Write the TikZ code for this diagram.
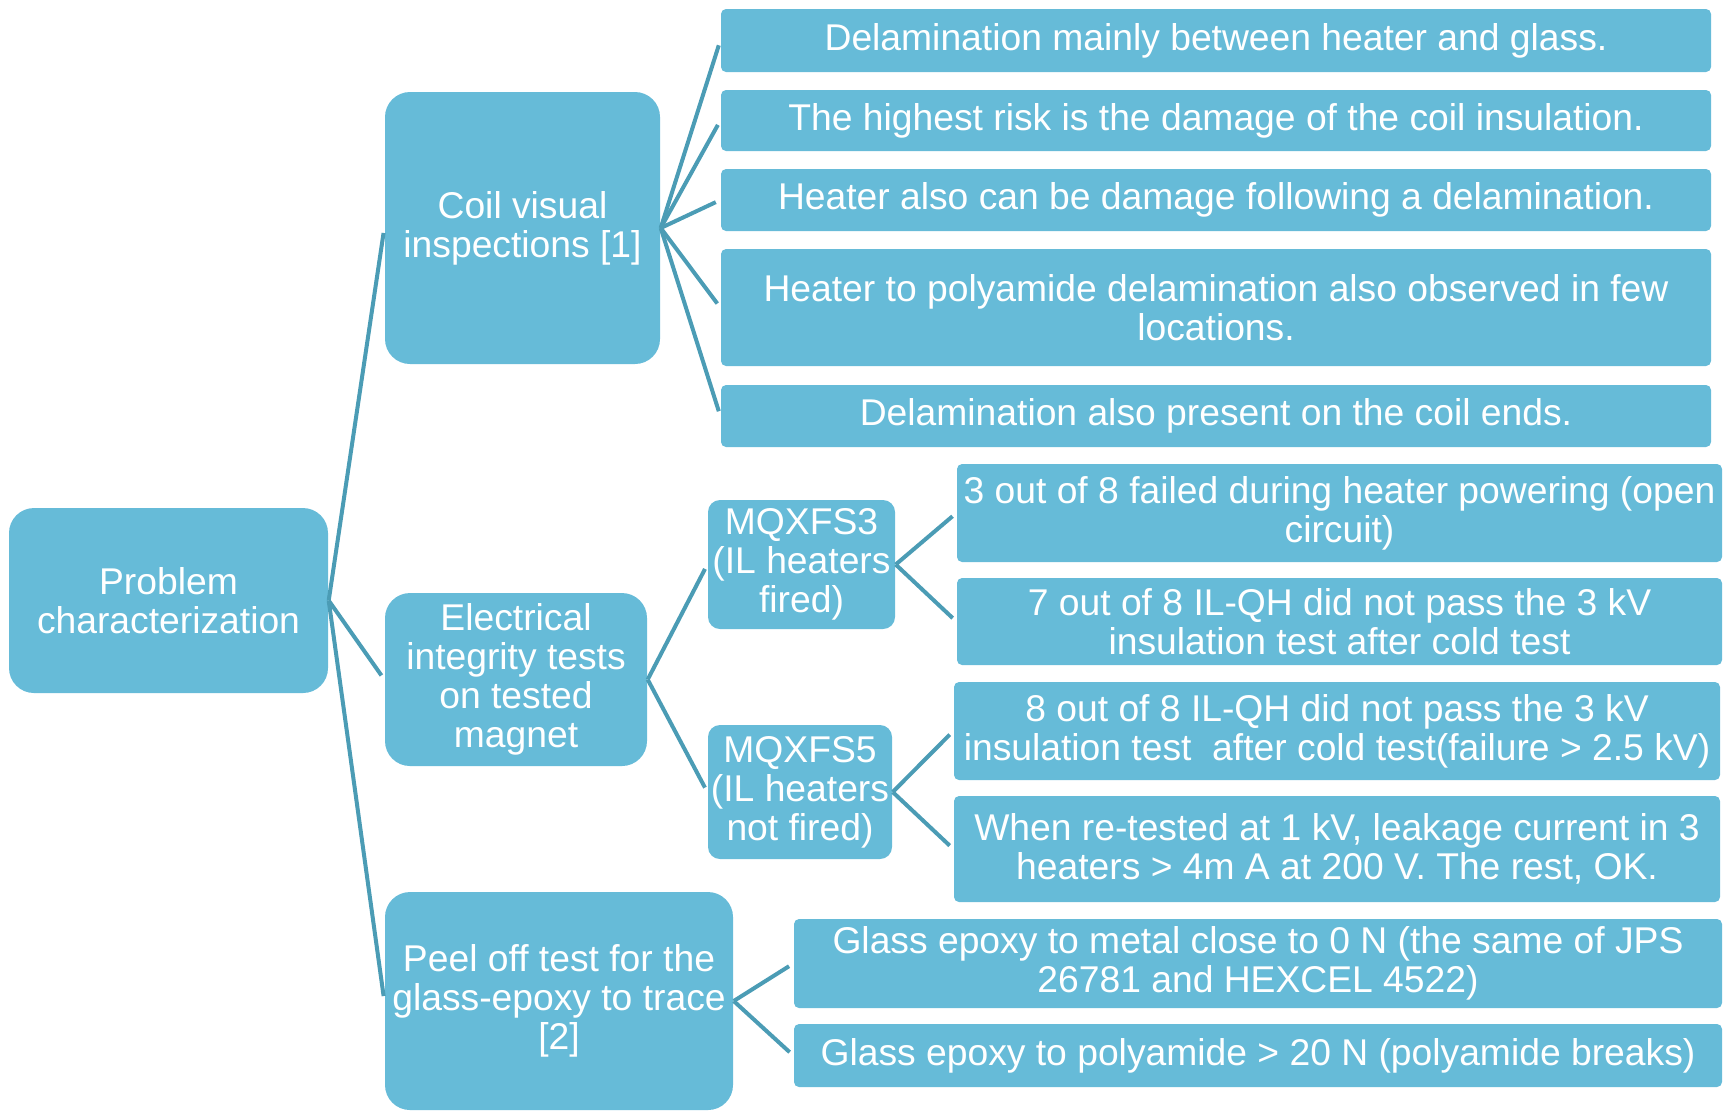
\documentclass[tikz,border=0pt]{standalone}
\usepackage{fontspec}
\setmainfont{Liberation Sans}
\definecolor{boxblue}{RGB}{102,187,216}
\definecolor{linkblue}{RGB}{75,156,181}
\begin{document}
\begin{tikzpicture}[x=0.1mm,y=-0.1mm,
        box/.style={fill=boxblue,text=white,align=center,inner sep=0pt,
            font=\fontsize{10.6}{11.1}\selectfont},
        bigbox/.style={box,rounded corners=2.5mm},
        midbox/.style={box,rounded corners=1.2mm},
        leafbox/.style={box,rounded corners=0.5mm},
        link/.style={draw=linkblue,line width=0.4mm,shorten >=0.5mm}]
        \useasboundingbox (0,0) rectangle (1734,1112);
        % first and second level
        \node[bigbox,minimum width=31.9mm,minimum height=18.5mm] (prob) at (168.5,600.5) {Problem\\characterization};
        \node[bigbox,minimum width=27.5mm,minimum height=27.2mm] (coil) at (522.5,228) {Coil visual\\inspections [1]};
        \node[bigbox,minimum width=26.2mm,minimum height=17.3mm] (elec) at (516,679.5) {Electrical\\integrity tests\\on tested\\magnet};
        \node[bigbox,minimum width=34.8mm,minimum height=21.8mm] (peel) at (559,1001) {Peel off test for the\\glass-epoxy to trace\\{[2]}};
        \node[midbox,minimum width=18.7mm,minimum height=12.9mm] (fsthree) at (801.5,564.5) {MQXFS3\\(IL heaters\\fired)};
        \node[midbox,minimum width=18.4mm,minimum height=13.4mm] (fsfive) at (800,792) {MQXFS5\\(IL heaters\\not fired)};
        % coil leaves
        \node[leafbox,minimum width=99mm,minimum height=6.3mm] (coila) at (1216,40.5) {Delamination mainly between heater and glass.};
        \node[leafbox,minimum width=99mm,minimum height=6.1mm] (coilb) at (1216,120.5) {The highest risk is the damage of the coil insulation.};
        \node[leafbox,minimum width=99mm,minimum height=6.2mm] (coilc) at (1216,200) {Heater also can be damage following a delamination.};
        \node[leafbox,minimum width=99mm,minimum height=11.7mm] (coild) at (1216,307.5) {Heater to polyamide delamination also observed in few\\locations.};
        \node[leafbox,minimum width=99mm,minimum height=6.2mm] (coile) at (1216,416) {Delamination also present on the coil ends.};
        % magnet leaves
        \node[leafbox,minimum width=76.5mm,minimum height=9.8mm] (fsthreea) at (1339.5,513) {3 out of 8 failed during heater powering (open\\circuit)};
        \node[leafbox,minimum width=76.5mm,minimum height=8.7mm] (fsthreeb) at (1339.5,621.5) {7 out of 8 IL-QH did not pass the 3 kV\\insulation test after cold test};
        \node[leafbox,minimum width=76.6mm,minimum height=9.8mm] (fsfivea) at (1337,731) {8 out of 8 IL-QH did not pass the 3 kV\\insulation test~ after cold test(failure > 2.5 kV)};
        \node[leafbox,minimum width=76.6mm,minimum height=10.6mm] (fsfiveb) at (1337,849) {When re-tested at 1 kV, leakage current in 3\\heaters > 4m A at 200 V. The rest, OK.};
        % peel leaves
        \node[leafbox,minimum width=92.8mm,minimum height=8.9mm] (peela) at (1258,963.5) {Glass epoxy to metal close to 0 N (the same of JPS\\26781 and HEXCEL 4522)};
        \node[leafbox,minimum width=92.8mm,minimum height=6.3mm] (peelb) at (1258,1055.5) {Glass epoxy to polyamide > 20 N (polyamide breaks)};
        % connectors
        \draw[link] (prob.east) -- (coil.west);
        \draw[link] (prob.east) -- (elec.west);
        \draw[link] (prob.east) -- (peel.west);
        \draw[link] (coil.east) -- (coila.west);
        \draw[link] (coil.east) -- (coilb.west);
        \draw[link] (coil.east) -- (coilc.west);
        \draw[link] (coil.east) -- (coild.west);
        \draw[link] (coil.east) -- (coile.west);
        \draw[link] (elec.east) -- (fsthree.west);
        \draw[link] (elec.east) -- (fsfive.west);
        \draw[link] (fsthree.east) -- (fsthreea.west);
        \draw[link] (fsthree.east) -- (fsthreeb.west);
        \draw[link] (fsfive.east) -- (fsfivea.west);
        \draw[link] (fsfive.east) -- (fsfiveb.west);
        \draw[link] (peel.east) -- (peela.west);
        \draw[link] (peel.east) -- (peelb.west);
    \end{tikzpicture}
\end{document}
